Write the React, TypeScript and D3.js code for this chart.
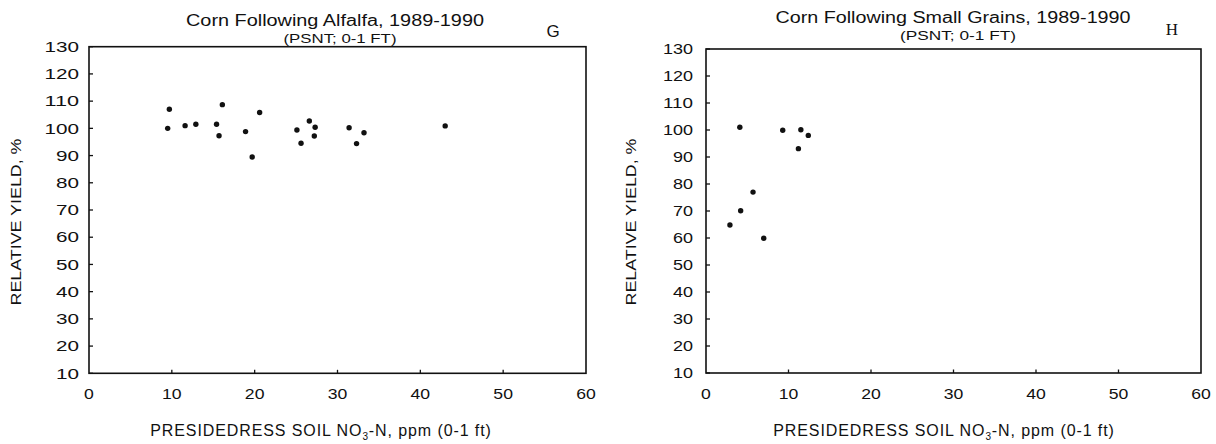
import React from 'react';
import * as d3 from 'd3';

// ---- data ----
const xTickValues = [0, 10, 20, 30, 40, 50, 60];
const yTickValues = [10, 20, 30, 40, 50, 60, 70, 80, 90, 100, 110, 120, 130];

const alfalfaNitrate = [9.5, 9.7, 11.6, 12.9, 15.4, 15.7, 16.1, 18.9, 19.7, 20.6, 25.1, 25.6, 26.6, 27.3, 27.2, 31.4, 32.3, 33.2, 43.0];
const alfalfaYield = [100, 107, 101, 101.5, 101.5, 97.3, 108.7, 98.8, 89.5, 105.8, 99.4, 94.5, 102.7, 100.4, 97.2, 100.2, 94.4, 98.4, 100.9];

const grainsNitrate = [2.9, 4.1, 4.2, 5.7, 7.0, 9.3, 11.2, 11.5, 12.4];
const grainsYield = [64.8, 101, 70.1, 77, 59.9, 99.9, 93.1, 100.1, 98];

const titles = ['Corn Following Alfalfa, 1989-1990', 'Corn Following Small Grains, 1989-1990'];
const subtitle = '(PSNT; 0-1 FT)';
const panelLetters = ['G', 'H'];
const yAxisTitle = 'RELATIVE YIELD, %';

// ---- layout ----
const SANS = '"Liberation Sans", Arial, Helvetica, sans-serif';
const SERIF = '"Liberation Serif", "DejaVu Serif", serif';
const INK = '#111';

const layouts = [
  {
    left: 89, right: 586, top: 46.7, bottom: 373.3,
    titleX: 335, titleY: 26, titleW: 298,
    subX: 340, subY: 43, subW: 113,
    letterX: 553, letterY: 36.5, letterFont: SANS,
    yLabEnd: 79, yDigitW: 11.5,
    yTitleX: 21, yTitleY: 222,
    xTitleX: 321, xTitleY: 436,
  },
  {
    left: 706, right: 1201, top: 49, bottom: 373,
    titleX: 953, titleY: 23, titleW: 355,
    subX: 958, subY: 40, subW: 116,
    letterX: 1172, letterY: 35, letterFont: SERIF,
    yLabEnd: 693, yDigitW: 10,
    yTitleX: 636, yTitleY: 222,
    xTitleX: 944, xTitleY: 436,
  },
];

function Panel({ idx, xs, ys }: { idx: number; xs: number[]; ys: number[] }) {
  const L = layouts[idx];
  const x = d3.scaleLinear().domain([0, 60]).range([L.left, L.right]);
  const y = d3.scaleLinear().domain([10, 130]).range([L.bottom, L.top]);
  const pts = xs.map((v, i) => [v, ys[i]] as [number, number]);
  return (
    <g>
      {/* titles */}
      <text x={L.titleX} y={L.titleY} textAnchor="middle" fontFamily={SANS} fontSize={16}
        textLength={L.titleW} lengthAdjust="spacingAndGlyphs" fill={INK}>{titles[idx]}</text>
      <text x={L.subX} y={L.subY} textAnchor="middle" fontFamily={SANS} fontSize={12.5}
        textLength={L.subW} lengthAdjust="spacingAndGlyphs" fill={INK}>{subtitle}</text>
      <text x={L.letterX} y={L.letterY} textAnchor="middle" fontFamily={L.letterFont} fontSize={17} fill={INK}>{panelLetters[idx]}</text>

      {/* frame */}
      <rect x={x(0)} y={y(130)} width={x(60) - x(0)} height={y(10) - y(130)} fill="none" stroke={INK} strokeWidth={1.6} />

      {/* y ticks */}
      {yTickValues.map((t) => (
        <g key={'y' + t}>
          <line x1={x(0)} x2={x(0) + 4} y1={y(t)} y2={y(t)} stroke={INK} strokeWidth={1.3} />
          <text x={L.yLabEnd} y={y(t)} dy="0.36em" textAnchor="end" fontFamily={SANS} fontSize={14.5}
            textLength={String(t).length * L.yDigitW} lengthAdjust="spacingAndGlyphs" fill={INK}>{t}</text>
        </g>
      ))}

      {/* x ticks */}
      {xTickValues.map((t) => (
        <g key={'x' + t}>
          {t > 0 && t < 60 && (
            <line x1={x(t)} x2={x(t)} y1={y(10)} y2={y(10) - 3.5} stroke={INK} strokeWidth={1.3} />
          )}
          <text x={x(t)} y={399} textAnchor="middle" fontFamily={SANS} fontSize={14.5}
            textLength={String(t).length * 9.8} lengthAdjust="spacingAndGlyphs" fill={INK}>{t}</text>
        </g>
      ))}

      {/* axis titles */}
      <text x={L.xTitleX} y={L.xTitleY} textAnchor="middle" fontFamily={SANS} fontSize={16}
        letterSpacing={0.9} fill={INK}>
        PRESIDEDRESS SOIL NO<tspan fontSize={10} dy={4}>3</tspan><tspan dy={-4}>-N, ppm (0-1 ft)</tspan>
      </text>
      <text transform={`translate(${L.yTitleX},${L.yTitleY}) rotate(-90)`} textAnchor="middle"
        fontFamily={SANS} fontSize={15.5} textLength={167} lengthAdjust="spacingAndGlyphs" fill={INK}>{yAxisTitle}</text>

      {/* points */}
      {pts.map(([a, b], i) => (
        <circle key={i} cx={x(a)} cy={y(b)} r={2.7} fill={INK} />
      ))}
    </g>
  );
}

export default function App() {
  return (
    <svg width={1216} height={444} viewBox="0 0 1216 444"
      style={{ position: 'absolute', left: 0, top: 0, display: 'block', background: '#fff' }}>
      <rect x={0} y={0} width={1216} height={444} fill="#fff" />
      <Panel idx={0} xs={alfalfaNitrate} ys={alfalfaYield} />
      <Panel idx={1} xs={grainsNitrate} ys={grainsYield} />
    </svg>
  );
}
